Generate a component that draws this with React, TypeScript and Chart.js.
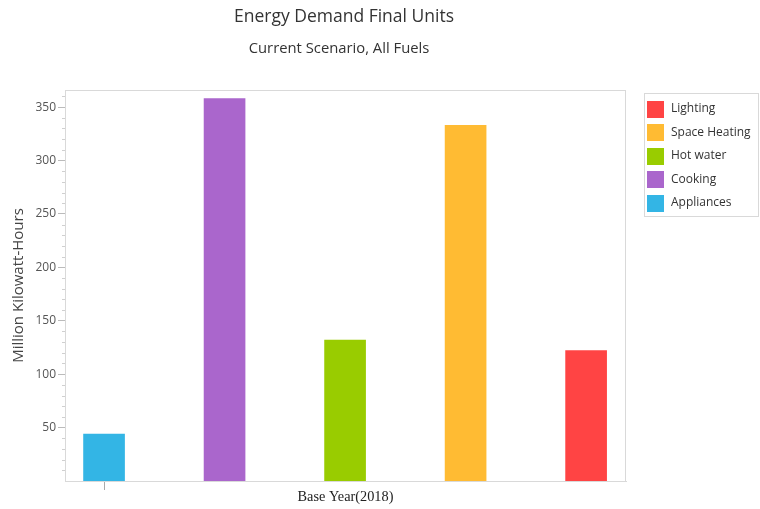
import React, { useEffect, useRef } from 'react';
import { Chart, registerables } from 'chart.js';

Chart.register(...registerables);

const categories = ['Appliances', 'Cooking', 'Hot water', 'Space Heating', 'Lighting'];
const values = [44, 358, 132, 333, 122];
const colors = ['#33b5e5', '#aa66cc', '#99cc00', '#ffbb33', '#ff4444'];
const legendOrder = ['Lighting', 'Space Heating', 'Hot water', 'Cooking', 'Appliances'];
const yTicks = [50, 100, 150, 200, 250, 300, 350];
const yMinorStep = 10;
const chartTitle = 'Energy Demand Final Units';
const chartSubtitle = 'Current Scenario, All Fuels';
const xTitle = 'Base Year(2018)';
const yTitle = 'Million Kilowatt-Hours';

const SANS = '"Open Sans", "Noto Sans", sans-serif';

const decorPlugin = {
  id: 'decor',
  beforeDraw(chart: any) {
    const ctx = chart.ctx;
    ctx.save();
    ctx.fillStyle = '#ffffff';
    ctx.fillRect(0, 0, chart.width, chart.height);
    ctx.restore();
  },
  afterDraw(chart: any) {
    const ctx = chart.ctx;
    const area = chart.chartArea;
    const yScale = chart.scales.y;
    ctx.save();
    // plot frame
    ctx.strokeStyle = '#d9d9d9';
    ctx.lineWidth = 1;
    ctx.strokeRect(Math.round(area.left) + 0.5, Math.round(area.top) + 0.5,
      Math.round(area.right - area.left) - 1, Math.round(area.bottom - area.top));
    // minor ticks
    ctx.strokeStyle = '#d0d0d0';
    for (let v = yMinorStep; v < yScale.max; v += yMinorStep) {
      if (v % 50 === 0) continue;
      const py = Math.round(yScale.getPixelForValue(v)) + 0.5;
      ctx.beginPath();
      ctx.moveTo(area.left - 3, py);
      ctx.lineTo(area.left, py);
      ctx.stroke();
    }
    // titles
    ctx.fillStyle = '#333333';
    ctx.textAlign = 'center';
    ctx.textBaseline = 'middle';
    ctx.font = `17.5px ${SANS}`;
    ctx.fillText(chartTitle, 344, 17.5);
    ctx.font = `14.8px ${SANS}`;
    ctx.fillText(chartSubtitle, 339, 49);
    // legend
    const lx = 644, ly = 93, lw = 114, lh = 123;
    ctx.strokeStyle = '#d9d9d9';
    ctx.strokeRect(lx + 0.5, ly + 0.5, lw, lh);
    ctx.textAlign = 'left';
    ctx.font = `12px ${SANS}`;
    legendOrder.forEach((name, i) => {
      const idx = categories.indexOf(name);
      const cy = 109 + i * 23.5;
      ctx.fillStyle = colors[idx];
      ctx.fillRect(647, Math.round(cy - 8.5), 17, 17);
      ctx.fillStyle = '#333333';
      ctx.fillText(name, 671, cy);
    });
    ctx.restore();
  },
};

export default function App() {
  const canvasRef = useRef<HTMLCanvasElement | null>(null);

  useEffect(() => {
    if (!canvasRef.current) return;
    const chart = new Chart(canvasRef.current, {
      type: 'bar',
      data: {
        datasets: [
          {
            label: 'Energy Demand',
            data: values.map((v, i) => ({ x: i, y: v })),
            backgroundColor: colors,
            borderWidth: 0,
            barThickness: 41,
          },
        ],
      },
      options: {
        animation: false,
        responsive: false,
        maintainAspectRatio: false,
        layout: { padding: { top: 90, right: 134, left: 0, bottom: 0 } },
        plugins: {
          legend: { display: false },
          tooltip: { enabled: false },
          title: { display: false },
        },
        scales: {
          x: {
            type: 'linear',
            min: -0.324,
            max: 4.331,
            offset: false,
            afterBuildTicks: (s: any) => {
              s.ticks = [{ value: 0 }];
            },
            ticks: { display: false },
            grid: { offset: false, drawOnChartArea: false, drawTicks: true, tickLength: 9, color: '#aaaaaa' },
            border: { color: '#d9d9d9' },
            title: {
              display: true,
              text: xTitle,
              color: '#222222',
              font: { family: '"Liberation Serif", "Times New Roman", serif', size: 14.3 },
              padding: { top: 0, bottom: 3 },
            },
            afterFit: (s: any) => {
              s.height = 28;
            },
          },
          y: {
            min: 0,
            max: 366,
            afterBuildTicks: (s: any) => {
              s.ticks = yTicks.map((v) => ({ value: v }));
            },
            ticks: { color: '#555555', font: { family: SANS, size: 12 }, padding: 2 },
            grid: { drawOnChartArea: false, tickLength: 7, color: '#bbbbbb' },
            border: { color: '#d9d9d9' },
            title: {
              display: true,
              text: yTitle,
              color: '#444444',
              font: { family: SANS, size: 15 },
              padding: { top: 10, bottom: 0 },
            },
            afterFit: (s: any) => {
              s.width = 65;
            },
          },
        },
      } as any,
      plugins: [decorPlugin],
    });
    return () => chart.destroy();
  }, []);

  return (
    <div style={{ position: 'absolute', left: 0, top: 0, width: 760, height: 509 }}>
      <canvas ref={canvasRef} width={760} height={509} />
    </div>
  );
}
